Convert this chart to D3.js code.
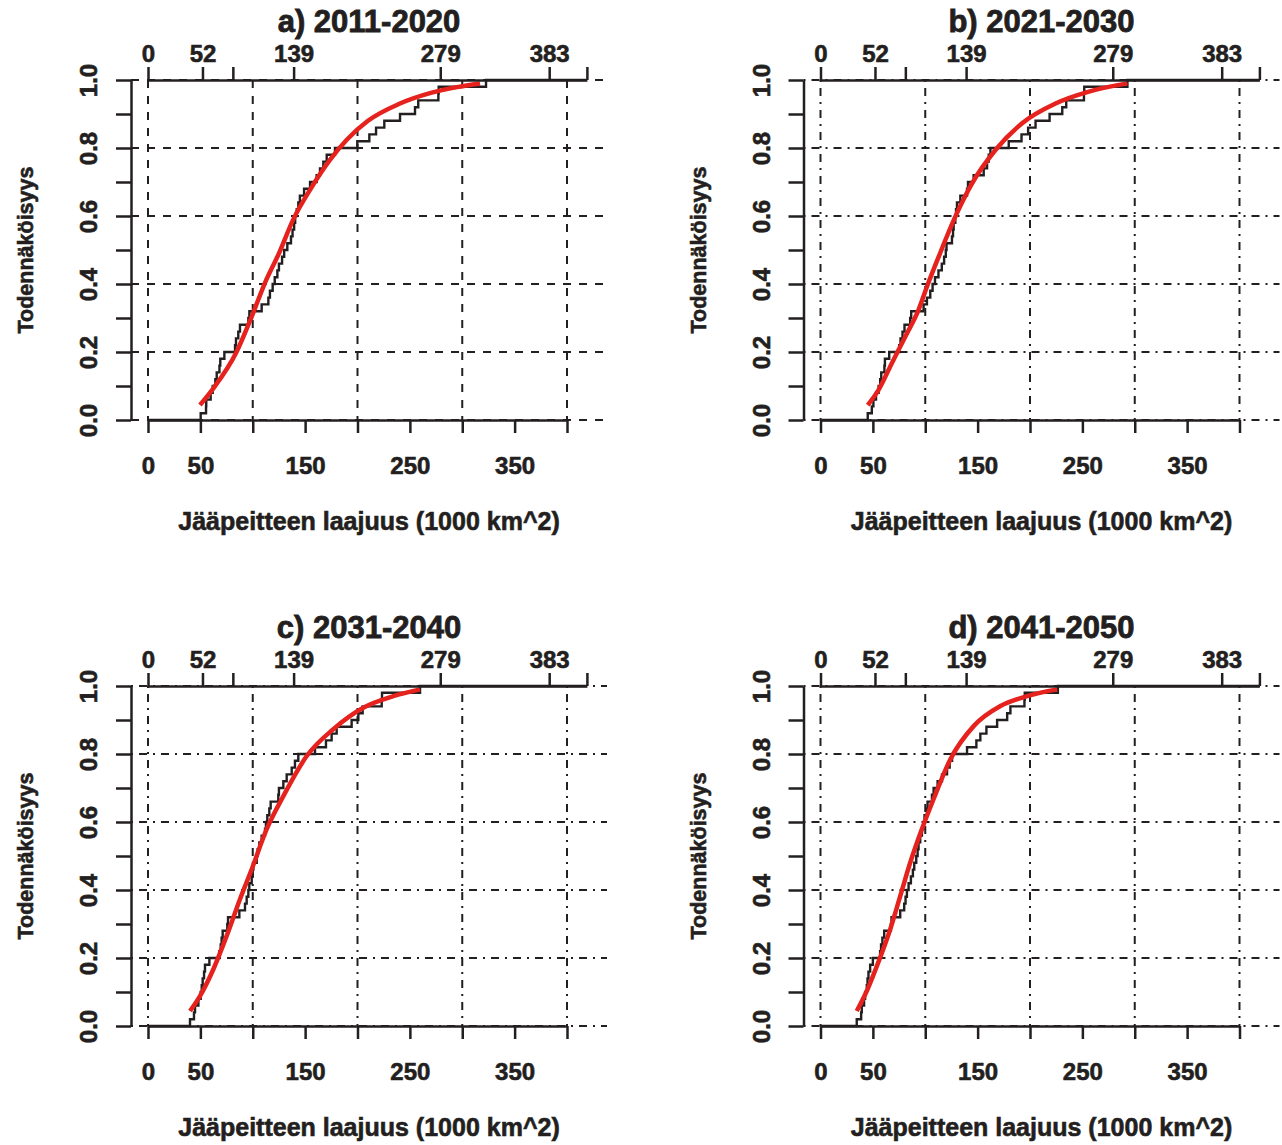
<!DOCTYPE html>
<html><head><meta charset="utf-8">
<script src="https://cdn.jsdelivr.net/npm/d3@7"></script>
<style>
body{margin:0;background:#fff}
svg{display:block}
text{font-family:"Liberation Sans",Arial,Helvetica,sans-serif;font-weight:bold;fill:#231f20;stroke:#231f20;stroke-width:0.6px}
</style>
</head><body>
<svg id="chart" width="1282" height="1145"></svg>
<script>
// ---- data ----
const panelTitles = ["a) 2011-2020", "b) 2021-2030", "c) 2031-2040", "d) 2041-2050"];
const xTitle = "Jääpeitteen laajuus (1000 km^2)";
const yTitle = "Todennäköisyys";

const xTicks = [0, 50, 100, 150, 200, 250, 300, 350, 400];
const xTickLabels = [0, 50, 150, 250, 350];
const topTicks = [0, 52, 81, 139, 279, 383, 419];
const topTickLabels = [0, 52, 139, 279, 383];
const yTicks = [0, 0.1, 0.2, 0.3, 0.4, 0.5, 0.6, 0.7, 0.8, 0.9, 1.0];
const yTickLabels = [0, 0.2, 0.4, 0.6, 0.8, 1.0];
const xGrid = [0, 100, 200, 300, 400];
const yGrid = [0, 0.2, 0.4, 0.6, 0.8, 1.0];

// sorted sample values (ECDF), n = 50 per period
const ecdfA = [50.3,55.4,55.6,59.8,61.8,64.3,65.6,68.2,69.0,72.9,83.1,84.0,86.2,87.8,95.8,96.8,108.5,114.9,116.4,119.0,121.0,123.5,125.0,128.0,130.0,133.0,136.5,138.0,139.5,140.5,142.0,143.5,145.0,149.0,154.7,161.0,164.2,167.4,170.6,178.5,199.8,211.3,217.7,225.6,240.6,254.9,258.0,277.2,277.5,322.7];
const ecdfB = [45.1,49.0,50.5,53.0,55.5,57.0,58.0,61.0,61.5,65.6,75.1,76.4,78.3,80.2,85.6,86.6,98.4,101.6,104.8,107.0,109.3,112.6,115.8,118.0,119.6,120.3,125.5,126.5,127.1,128.7,129.4,130.3,133.5,139.9,140.8,146.2,155.8,159.0,160.6,162.2,179.7,191.9,198.2,205.3,218.7,230.8,234.6,251.5,251.8,293.0];
const ecdfC = [40.1,43.9,44.9,48.1,50.3,51.3,52.2,53.5,54.4,58.6,68.1,69.4,70.3,71.3,75.7,76.4,87.2,92.6,94.2,95.8,96.7,99.0,99.9,100.6,103.8,104.7,106.3,108.5,111.7,112.6,113.9,115.8,117.1,124.4,125.0,129.2,132.4,137.2,140.3,143.5,159.4,169.9,175.3,180.1,194.4,200.8,204.9,223.1,223.4,259.7];
const ecdfD = [34.6,38.8,39.4,41.6,42.6,44.2,44.9,45.8,47.4,50.0,56.9,57.8,59.1,60.8,67.2,67.8,76.1,79.9,81.2,82.5,84.1,86.3,88.2,89.5,91.4,92.7,93.6,95.2,96.8,98.4,99.3,101.6,102.2,106.4,108.0,111.8,116.0,120.8,123.3,125.6,139.9,148.8,152.6,158.4,168.6,178.2,181.3,194.7,195.0,226.6];

// fitted CDF curves (value, probability)
const fitA = [[49.6,0.044],[62.4,0.093],[84.5,0.2],[99,0.304],[111.5,0.402],[125,0.49],[138.7,0.59],[154.7,0.677],[173.7,0.765],[190,0.825],[210,0.88],[240,0.93],[270,0.962],[295,0.979],[317,0.99]];
const fitB = [[45.1,0.044],[55.3,0.088],[68.1,0.167],[80.9,0.245],[93.6,0.324],[101.6,0.392],[112.8,0.48],[128.7,0.598],[144.7,0.696],[167,0.794],[192.5,0.873],[224.4,0.931],[256.3,0.966],[293,0.99]];
const fitC = [[40.1,0.044],[49.6,0.088],[62.4,0.167],[75.1,0.265],[87.8,0.373],[99,0.461],[113.3,0.579],[129.2,0.676],[151.5,0.794],[176.9,0.873],[205.5,0.936],[234.2,0.97],[259.7,0.99]];
const fitD = [[34.6,0.044],[44.2,0.103],[53.8,0.176],[66.5,0.284],[76.1,0.382],[85.6,0.48],[96.8,0.579],[107.9,0.667],[123.9,0.784],[146.2,0.882],[171.8,0.941],[197.3,0.97],[226,0.99]];

const ecdfs = [ecdfA, ecdfB, ecdfC, ecdfD];
const fits = [fitA, fitB, fitC, fitD];

// ---- layout ----
const panelLeft = [148, 820.5, 148, 820.5];
const panelTop = [80, 80, 686, 686];
const gridDash = ["8,8", "2,6,8,6", "2,6,8,6", "2,6,8,6"];
const INK = "#231f20";
const RED = "#e5221d";
const PW = 419, PH = 340;

const svg = d3.select("#chart");
svg.append("rect").attr("width", 1282).attr("height", 1145).attr("fill", "#fff");

panelTitles.forEach((title, i) => {
  const left = panelLeft[i], top = panelTop[i];
  const x = d3.scaleLinear().domain([0, 400]).range([left, left + PW]);
  const y = d3.scaleLinear().domain([0, 1]).range([top + PH, top]);
  const g = svg.append("g");

  // grid
  g.selectAll(".hg").data(yGrid).join("line")
    .attr("x1", left - 17).attr("x2", left + 459)
    .attr("y1", d => y(d)).attr("y2", d => y(d))
    .attr("stroke", INK).attr("stroke-width", 2).attr("stroke-dasharray", gridDash[i]);
  g.selectAll(".vg").data(xGrid).join("line")
    .attr("x1", d => x(d)).attr("x2", d => x(d))
    .attr("y1", y(1)).attr("y2", y(0))
    .attr("stroke", INK).attr("stroke-width", 2).attr("stroke-dasharray", gridDash[i]);

  // ECDF step line
  const vals = ecdfs[i];
  const n = vals.length;
  const pts = [[0, 0]].concat(vals.map((v, k) => [v, (k + 1) / n]));
  pts.push([419, 1]);
  g.append("path").datum(pts)
    .attr("d", d3.line().x(d => x(d[0])).y(d => y(d[1])).curve(d3.curveStepAfter))
    .attr("fill", "none").attr("stroke", INK).attr("stroke-width", 2.4);

  // fitted curve
  g.append("path").datum(fits[i])
    .attr("d", d3.line().x(d => x(d[0])).y(d => y(d[1])).curve(d3.curveMonotoneX))
    .attr("fill", "none").attr("stroke", RED).attr("stroke-width", 4.5).attr("stroke-linecap", "butt");

  // bottom axis
  const bx = g.append("g").attr("transform", `translate(0,${y(0)})`)
    .call(d3.axisBottom(x).tickValues(xTicks).tickSize(13).tickSizeOuter(0).tickPadding(24)
      .tickFormat(d => xTickLabels.includes(d) ? d : ""));
  // top axis
  const xTop = d3.scaleLinear().domain([0, 419]).range([x(0), x(419)]);
  const tx = g.append("g").attr("transform", `translate(0,${y(1)})`)
    .call(d3.axisTop(xTop).tickValues(topTicks).tickSize(13).tickSizeOuter(0).tickPadding(5)
      .tickFormat(d => topTickLabels.includes(d) ? d : ""));
  // left axis
  const ly = g.append("g").attr("transform", `translate(${left - 17},0)`)
    .call(d3.axisLeft(y).tickValues(yTicks).tickSize(15).tickSizeOuter(0)
      .tickFormat(d => yTickLabels.some(v => Math.abs(v - d) < 1e-9) ? d.toFixed(1) : ""));
  ly.selectAll(".tick text")
    .attr("x", 0).attr("dy", 0).attr("text-anchor", "middle")
    .attr("transform", "translate(-34,0) rotate(-90)");

  [bx, tx, ly].forEach(a => {
    a.selectAll("path.domain").attr("stroke", INK).attr("stroke-width", 2.5);
    a.selectAll(".tick line").attr("stroke", INK).attr("stroke-width", 2.5);
    a.selectAll(".tick text").style("font-size", "24px").attr("fill", INK)
      .style("font-family", "'Liberation Sans', Arial, sans-serif").style("font-weight", "bold")
      .style("stroke", INK).style("stroke-width", "0.6px");
  });

  // titles
  g.append("text").attr("x", left + 221).attr("y", top - 48)
    .attr("text-anchor", "middle").style("font-size", "31px").style("stroke-width", "0.8px").text(title);
  g.append("text").attr("x", left + 221).attr("y", top + PH + 110)
    .attr("text-anchor", "middle").style("font-size", "25px").text(xTitle);
  g.append("text").attr("transform", `translate(${left - 115},${top + 170}) rotate(-90)`)
    .attr("text-anchor", "middle").style("font-size", "21.5px").text(yTitle);
});
</script>
</body></html>
